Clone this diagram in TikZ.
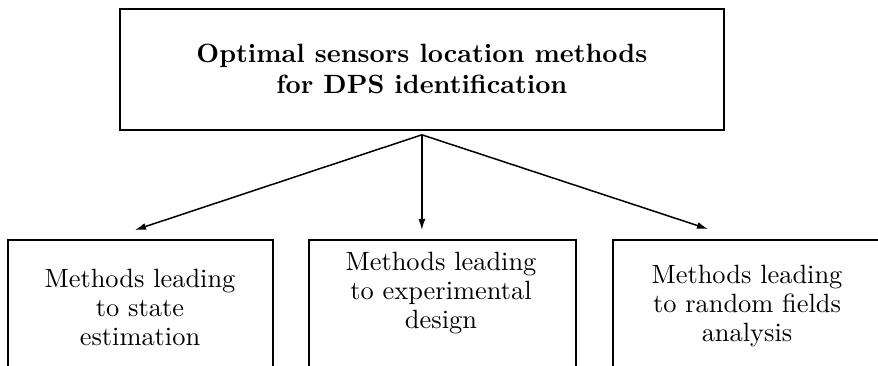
\documentclass[tikz,border=0pt]{standalone}
\usepackage{fontspec}
\setmainfont{lmroman10-regular}[Extension=.otf, BoldFont=lmroman10-bold]
\usetikzlibrary{arrows.meta}
\tikzset{
  box/.style={draw=black, line width=1.8pt, rectangle, inner sep=0pt, anchor=north west},
  label/.style={inner sep=0pt, align=center, anchor=north,
    font=\fontsize{26.4}{29}\selectfont},
  titletext/.style={align=center, font=\fontsize{26.4}{31}\selectfont\bfseries},
  arr/.style={line width=1.5pt, -{Latex[length=11pt,width=7pt]}}
}
\begin{document}
\begin{tikzpicture}[x=1pt, y=-1pt]
\useasboundingbox (0,0) rectangle (878,366);
\clip (0,0) rectangle (878,366);
% top box with title
\node[box, titletext, minimum width=604pt, minimum height=121pt] (top) at (119,8)
  {Optimal sensors location methods\\for DPS identification};
% bottom boxes (cut by the picture's lower edge)
\node[box, minimum width=265pt, minimum height=200pt] (lbox) at (7,239) {};
\node[box, minimum width=267pt, minimum height=200pt] (mbox) at (308,239) {};
\node[box, minimum width=266pt, minimum height=200pt] (rbox) at (612,239) {};
% texts
\node[label] (ltext) at (140,268.7) {Methods leading\\to state\\estimation};
\node[label] (mtext) at (441,251.7) {Methods leading\\to experimental\\design};
\node[label] (rtext) at (747,264.7) {Methods leading\\to random fields\\analysis};
% connectors
\coordinate (apex) at ([yshift=-4pt]top.south);
\coordinate (tipL) at (135,230);
\coordinate (tipM) at (apex |- 0,230);
\coordinate (tipR) at (708,229);
\draw[arr] (apex) -- (tipL);
\draw[arr] (apex) -- (tipM);
\draw[arr] (apex) -- (tipR);
\end{tikzpicture}
\end{document}
